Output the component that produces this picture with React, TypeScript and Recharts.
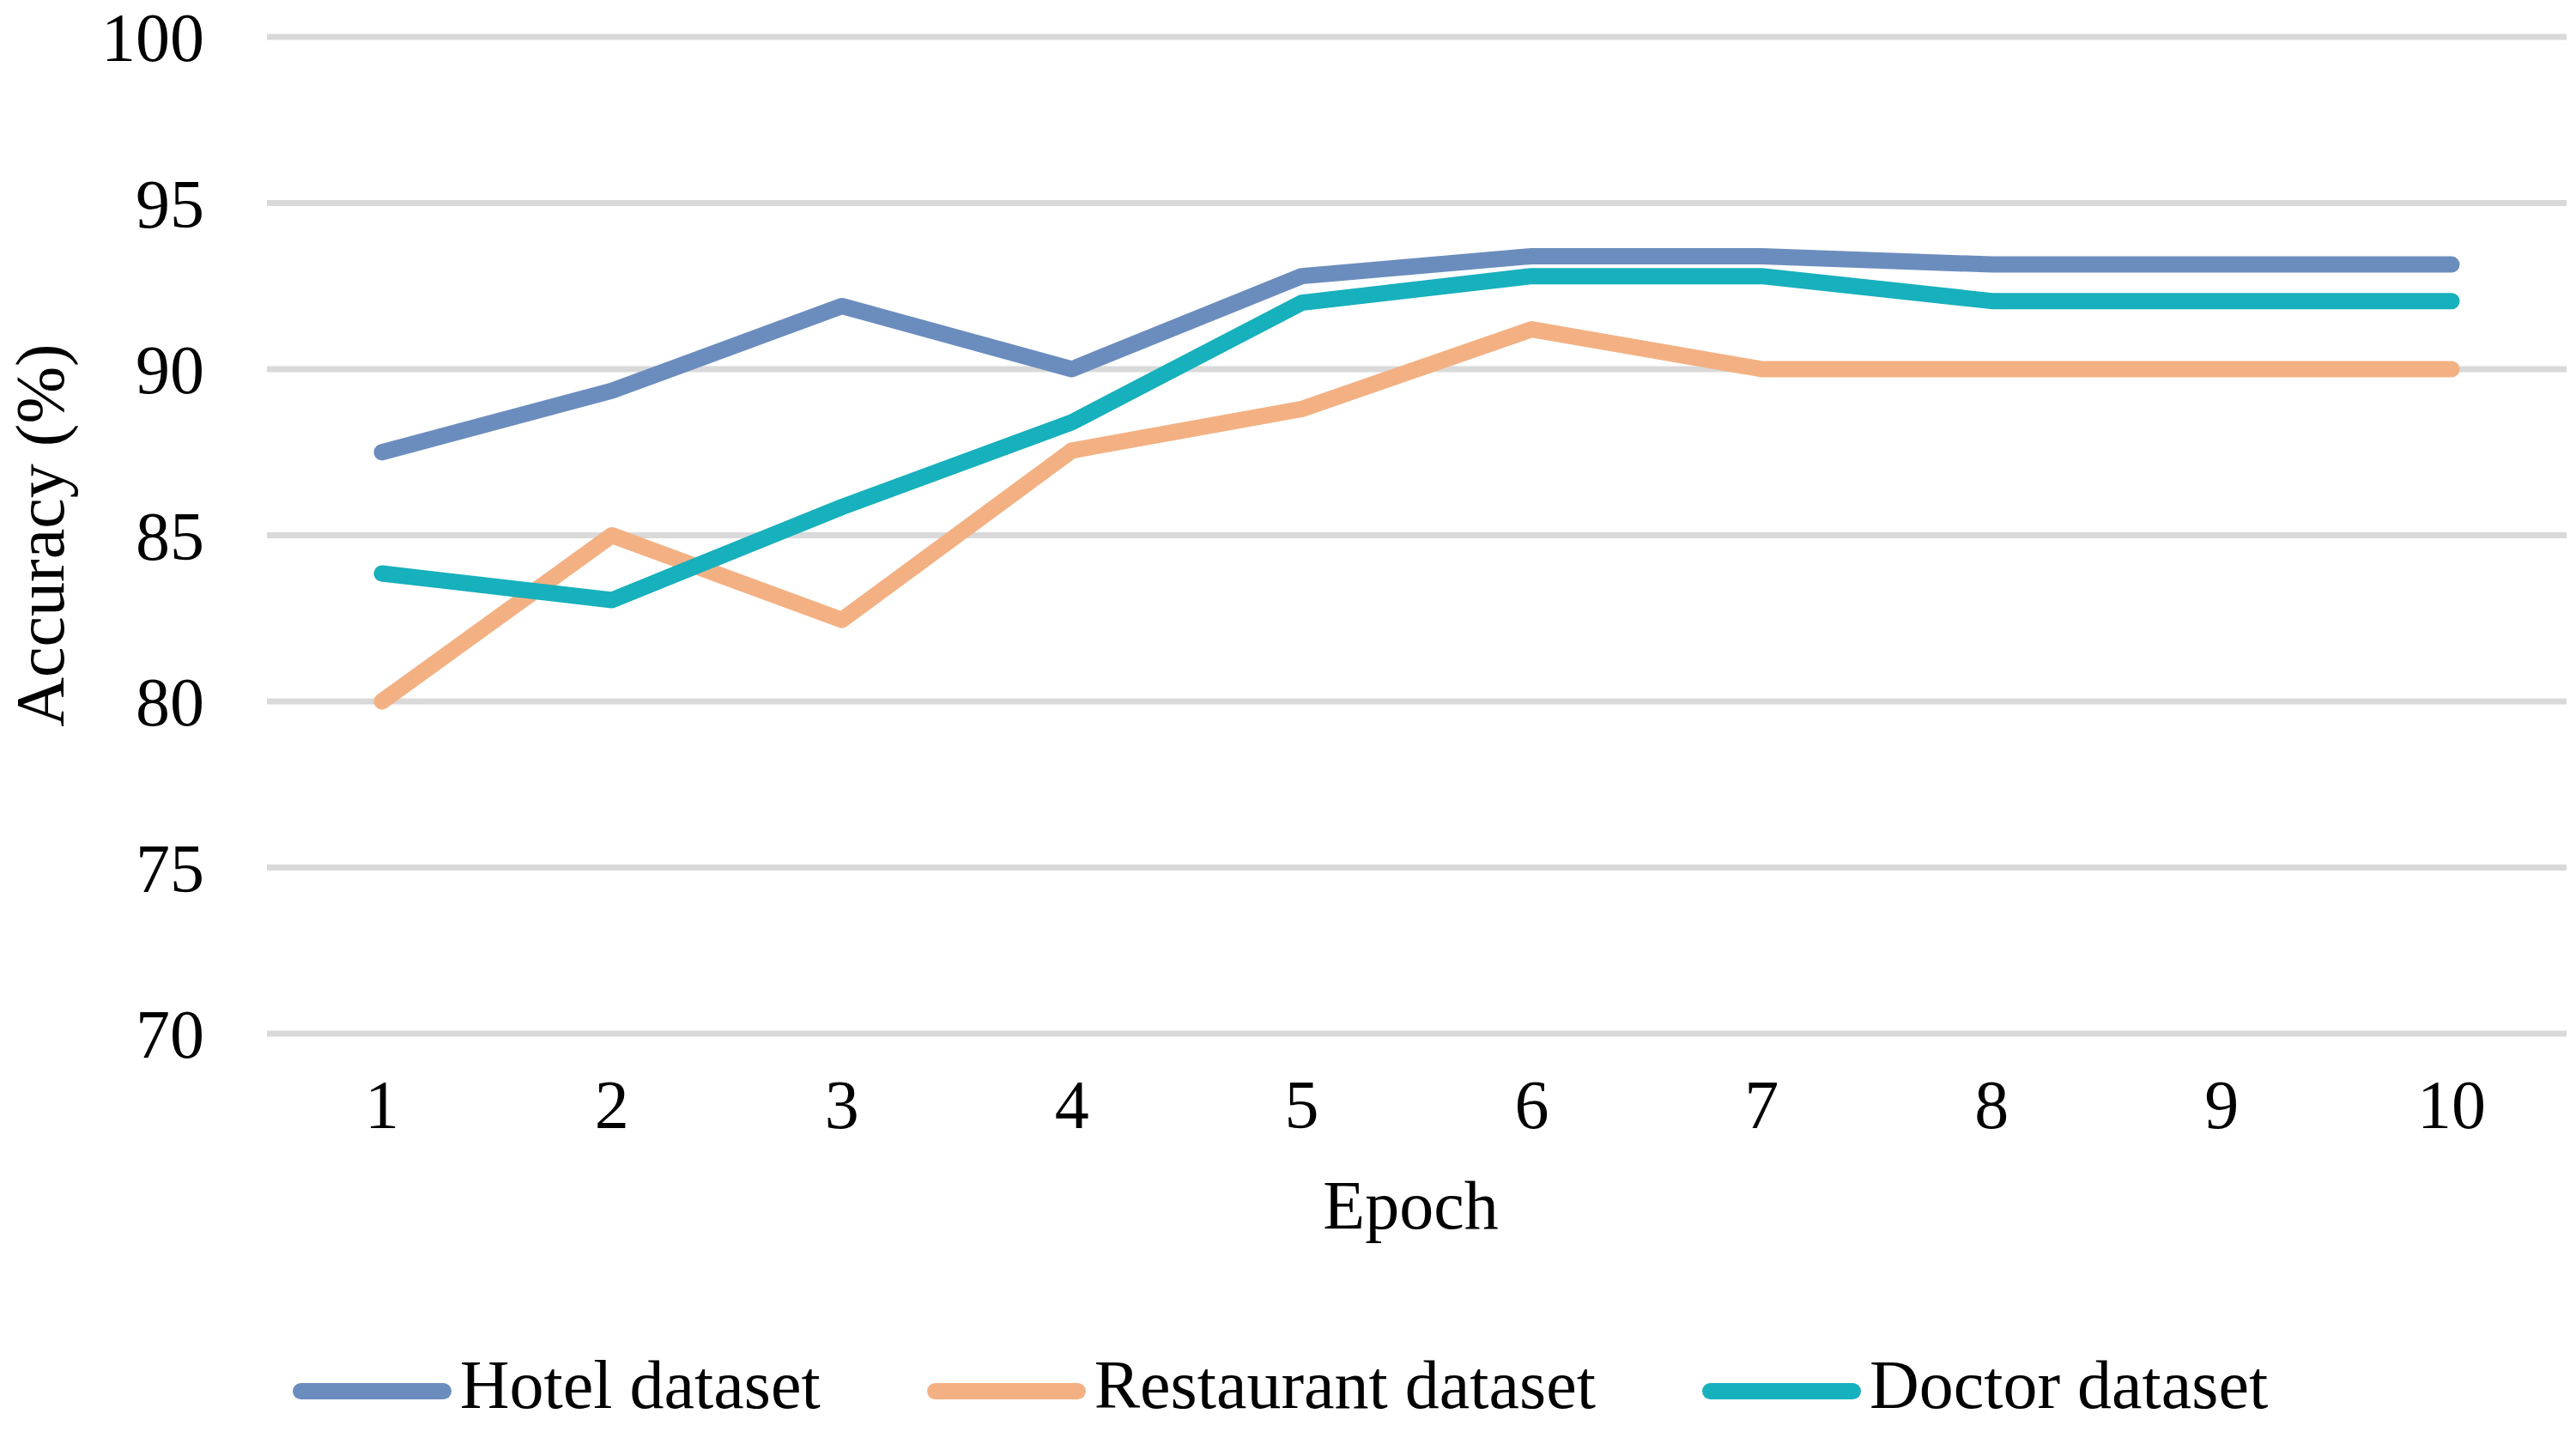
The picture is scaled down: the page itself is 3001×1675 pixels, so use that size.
import React from 'react';
import { LineChart, Line, XAxis, YAxis, CartesianGrid, Legend } from 'recharts';

const epochs = ['1', '2', '3', '4', '5', '6', '7', '8', '9', '10'];
const hotel = [87.5, 89.35, 91.9, 90.0, 92.8, 93.4, 93.4, 93.15, 93.15, 93.15];
const restaurant = [80.0, 85.0, 82.45, 87.55, 88.8, 91.2, 90.0, 90.0, 90.0, 90.0];
const doctor = [83.85, 83.05, 85.85, 88.4, 92.0, 92.8, 92.8, 92.05, 92.05, 92.05];
const yTicks = [70, 75, 80, 85, 90, 95, 100];

const seriesNames = ['Hotel dataset', 'Restaurant dataset', 'Doctor dataset'];
const seriesKeys = ['hotel', 'restaurant', 'doctor'];
const seriesColors = ['#6B8DBE', '#F3B183', '#17B0BD'];

const data = epochs.map((e, i) => ({
  epoch: e,
  hotel: hotel[i],
  restaurant: restaurant[i],
  doctor: doctor[i],
}));

const FONT = '"Liberation Serif", "Times New Roman", Times, serif';
const W = 3001;
const H = 1675;

const LegendContent = () => (
  <div
    style={{
      display: 'flex',
      justifyContent: 'center',
      alignItems: 'center',
      height: 110,
      width: W,
      paddingRight: 18,
      boxSizing: 'border-box',
      fontFamily: FONT,
    }}
  >
    {seriesNames.map((name, i) => (
      <div
        key={name}
        style={{
          display: 'flex',
          alignItems: 'center',
          marginLeft: i === 0 ? 0 : 124,
        }}
      >
        <div
          style={{
            width: 185,
            height: 19,
            borderRadius: 9.5,
            background: seriesColors[i],
            marginRight: 10,
          }}
        />
        <span
          style={{
            fontSize: 80,
            lineHeight: '80px',
            color: '#000',
            position: 'relative',
            top: -7,
            whiteSpace: 'nowrap',
          }}
        >
          {name}
        </span>
      </div>
    ))}
  </div>
);

export default function App() {
  return (
    <div
      style={{
        position: 'absolute',
        left: 0,
        top: 0,
        width: W,
        height: H,
        background: '#fff',
        fontFamily: FONT,
      }}
    >
      <LineChart
        width={W}
        height={H}
        data={data}
        margin={{ top: 43, right: 11, left: 0, bottom: 0 }}
        style={{ fontFamily: FONT }}
      >
        <CartesianGrid
          vertical={false}
          stroke="#D9D9D9"
          strokeWidth={7}
        />
        <XAxis
          dataKey="epoch"
          scale="band"
          height={361}
          axisLine={false}
          tickLine={false}
          tickSize={0}
          tickMargin={53}
          interval={0}
          tick={{ fill: '#000', fontSize: 80, fontFamily: FONT }}
          label={{
            value: 'Epoch',
            position: 'insideBottom',
            offset: 134,
            dx: -7,
            fill: '#000',
            fontSize: 80,
            fontFamily: FONT,
          }}
        />
        <YAxis
          domain={[70, 100]}
          ticks={yTicks}
          width={311}
          axisLine={false}
          tickLine={false}
          tickSize={0}
          tickMargin={73}
          interval={0}
          tick={{ fill: '#000', fontSize: 80, fontFamily: FONT }}
          label={{
            value: 'Accuracy (%)',
            angle: -90,
            position: 'insideLeft',
            offset: 52,
            dx: -6,
            fill: '#000',
            fontSize: 80,
            fontFamily: FONT,
            style: { textAnchor: 'middle' },
          }}
        />
        <Legend
          verticalAlign="bottom"
          align="center"
          height={110}
          wrapperStyle={{ left: 0, bottom: 0, width: W }}
          content={<LegendContent />}
        />
        {seriesKeys.map((k, i) => (
          <Line
            key={k}
            type="linear"
            dataKey={k}
            name={seriesNames[i]}
            stroke={seriesColors[i]}
            strokeWidth={19}
            strokeLinecap="round"
            strokeLinejoin="round"
            dot={false}
            activeDot={false}
            isAnimationActive={false}
          />
        ))}
      </LineChart>
    </div>
  );
}
